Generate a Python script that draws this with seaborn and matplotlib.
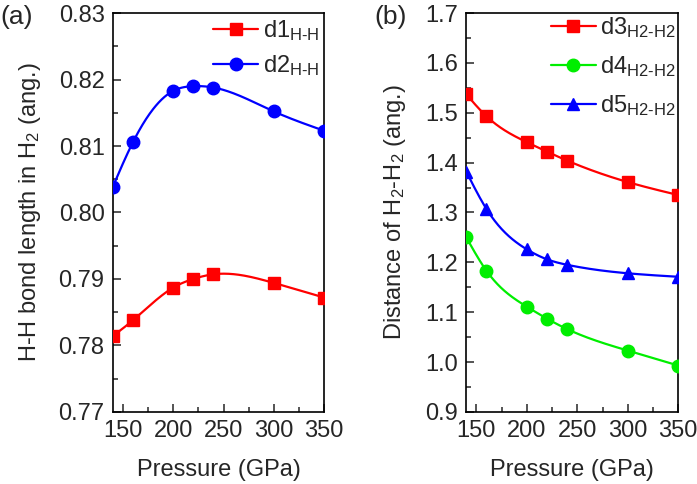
import numpy as np
import matplotlib
matplotlib.use('Agg')
import matplotlib.pyplot as plt
import seaborn as sns
from matplotlib.lines import Line2D
from matplotlib.ticker import MultipleLocator

pressure = [140, 160, 200, 220, 240, 300, 350]

d1_hh = [0.7814, 0.7838, 0.7887, 0.7900, 0.7907, 0.7894, 0.7872]
d2_hh = [0.8039, 0.8106, 0.8183, 0.8190, 0.8188, 0.8152, 0.8123]

d3_h2h2 = [1.537, 1.493, 1.441, 1.422, 1.404, 1.361, 1.335]
d4_h2h2 = [1.250, 1.183, 1.111, 1.087, 1.066, 1.023, 0.993]
d5_h2h2 = [1.382, 1.307, 1.226, 1.206, 1.195, 1.178, 1.171]


def spline(x, y, n=300):
    # natural cubic spline, only used to draw the smooth connecting line
    x = np.asarray(x, float)
    y = np.asarray(y, float)
    k = len(x)
    h = np.diff(x)
    A = np.zeros((k, k))
    b = np.zeros(k)
    A[0, 0] = A[-1, -1] = 1
    for i in range(1, k - 1):
        A[i, i - 1] = h[i - 1]
        A[i, i] = 2 * (h[i - 1] + h[i])
        A[i, i + 1] = h[i]
        b[i] = 6 * ((y[i + 1] - y[i]) / h[i] - (y[i] - y[i - 1]) / h[i - 1])
    M = np.linalg.solve(A, b)
    xs = np.linspace(x[0], x[-1], n)
    idx = np.clip(np.searchsorted(x, xs) - 1, 0, k - 2)
    x0, x1 = x[idx], x[idx + 1]
    hh = x1 - x0
    t0, t1 = x1 - xs, xs - x0
    ys = (M[idx] * t0**3 + M[idx + 1] * t1**3) / (6 * hh) \
        + (y[idx] / hh - M[idx] * hh / 6) * t0 \
        + (y[idx + 1] / hh - M[idx + 1] * hh / 6) * t1
    return xs, ys


sns.set_style('ticks')
plt.rcParams['font.family'] = ['Liberation Sans', 'DejaVu Sans']
plt.rcParams['mathtext.fontset'] = 'custom'
plt.rcParams['mathtext.rm'] = 'Liberation Sans'
plt.rcParams['mathtext.it'] = 'Liberation Sans'
plt.rcParams['mathtext.default'] = 'regular'

FS = 17

fig = plt.figure(figsize=(6.97, 4.84), dpi=100)
ax1 = fig.add_axes([0.162, 0.149, 0.303, 0.824])
ax2 = fig.add_axes([0.669, 0.149, 0.304, 0.824])

red, blue, green = '#ff0000', '#0000ff', '#00ee00'
mk = {'s': 8, 'o': 9, '^': 9}


def draw(ax, y, color, marker):
    xs, ys = spline(pressure, y)
    sns.lineplot(x=xs, y=ys, ax=ax, color=color, lw=1.6, estimator=None, sort=False)
    ax.plot(pressure, y, linestyle='none', marker=marker, ms=mk[marker], color=color,
            zorder=5)


draw(ax1, d1_hh, red, 's')
draw(ax1, d2_hh, blue, 'o')
draw(ax2, d3_h2h2, red, 's')
draw(ax2, d4_h2h2, green, 'o')
draw(ax2, d5_h2h2, blue, '^')

ax1.set_ylim(0.77, 0.83)
ax1.yaxis.set_major_locator(MultipleLocator(0.01))
ax1.yaxis.set_minor_locator(MultipleLocator(0.005))
ax2.set_ylim(0.9, 1.7)
ax2.yaxis.set_major_locator(MultipleLocator(0.1))
ax2.yaxis.set_minor_locator(MultipleLocator(0.05))

for ax in (ax1, ax2):
    ax.set_xlim(140, 350)
    ax.xaxis.set_major_locator(MultipleLocator(50))
    ax.xaxis.set_minor_locator(MultipleLocator(25))
    ax.tick_params(which='both', direction='in', labelsize=FS, width=1.1,
                   top=False, right=False, pad=6)
    ax.tick_params(which='major', length=6)
    ax.tick_params(which='minor', length=3.5)
    for s in ax.spines.values():
        s.set_linewidth(1.2)
        s.set_color('black')
    ax.set_xlabel('Pressure (GPa)', fontsize=FS, labelpad=12)

ax1.set_ylabel(r'H-H bond length in H$_2$ (ang.)', fontsize=FS, labelpad=11)
ax2.set_ylabel(r'Distance of H$_2$-H$_2$ (ang.)', fontsize=FS, labelpad=12)


def handle(color, marker):
    return Line2D([], [], color=color, marker=marker, ms=mk[marker], lw=1.6)


ax1.legend([handle(red, 's'), handle(blue, 'o')],
           [r'd1$_{\text{H-H}}$', r'd2$_{\text{H-H}}$'], loc='upper right',
           frameon=False, fontsize=FS, handlelength=1.9, handletextpad=0.2,
           borderaxespad=0.0, labelspacing=0.45, borderpad=0.2)

ax2.legend([handle(red, 's'), handle(green, 'o'), handle(blue, '^')],
           [r'd3$_{\text{H2-H2}}$', r'd4$_{\text{H2-H2}}$', r'd5$_{\text{H2-H2}}$'],
           loc='upper right', frameon=False, fontsize=FS, handlelength=1.9,
           handletextpad=0.2, borderaxespad=0.0, labelspacing=0.6, borderpad=0.1)

fig.text(0.0, 0.965, '(a)', fontsize=19, va='center', ha='left')
fig.text(0.537, 0.965, '(b)', fontsize=19, va='center', ha='left')

fig.savefig('out.png', dpi=100)
